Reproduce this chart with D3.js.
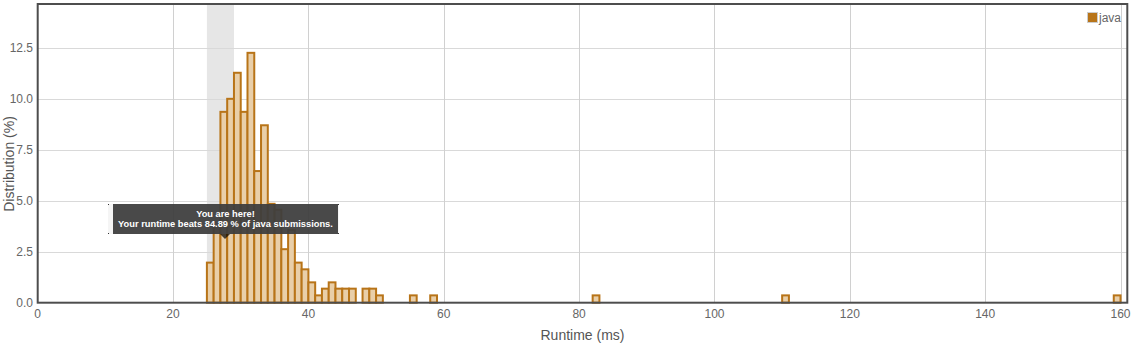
<!DOCTYPE html>
<html>
<head>
<meta charset="utf-8">
<script src="https://cdn.jsdelivr.net/npm/d3@7"></script>
<style>
  body { margin: 0; background: #fff; }
  text { font-family: "Liberation Sans", Arial, Helvetica, sans-serif; }
</style>
</head>
<body>
<div id="chart"></div>
<script>
// runtime bins (ms) and share of submissions (%)
var runtimes = [25, 26, 27, 28, 29, 30, 31, 32, 33, 34, 35, 36, 37, 38, 39, 40,
                41, 42, 43, 44, 45, 46, 48, 49, 50, 55, 58, 82, 110, 159];
var distribution = [1.97, 3.76, 9.38, 10.02, 11.3, 9.38, 12.28, 6.47, 8.72, 4.86, 4.57, 2.63, 3.58, 1.97, 1.64, 1.0,
                    0.36, 0.69, 1.0, 0.69, 0.69, 0.69, 0.69, 0.69, 0.36, 0.36, 0.36, 0.36, 0.36, 0.36];
var xTicks = [0, 20, 40, 60, 80, 100, 120, 140, 160];
var yTicks = [0, 2.5, 5, 7.5, 10, 12.5];
var highlight = [25, 29];
var tipLines = ['You are here!', 'Your runtime beats 84.89 % of java submissions.'];
var seriesName = 'java';

var width = 1131,
    height = 343,
    plotLeft = 37.7, plotRight = 1127.3, plotTop = 4, plotBottom = 302.7;

var svg = d3.select('#chart').append('svg')
  .attr('width', width)
  .attr('height', height);

var x = d3.scaleLinear().domain([0, 161]).range([plotLeft, plotRight]);
var y = d3.scaleLinear().domain([0, 14.68]).range([plotBottom, plotTop]);

// highlighted band
svg.append('rect')
  .attr('x', x(highlight[0]))
  .attr('y', plotTop)
  .attr('width', x(highlight[1]) - x(highlight[0]))
  .attr('height', plotBottom - plotTop)
  .attr('fill', '#e6e6e6');

// grid
svg.append('g').selectAll('line')
  .data(yTicks.slice(1))
  .enter().append('line')
  .attr('x1', plotLeft).attr('x2', plotRight)
  .attr('y1', function(d) { return Math.round(y(d)) + 0.5; })
  .attr('y2', function(d) { return Math.round(y(d)) + 0.5; })
  .attr('stroke', '#d9d9d9')
  .attr('stroke-width', 1);

svg.append('g').selectAll('line')
  .data(xTicks.slice(1))
  .enter().append('line')
  .attr('x1', function(d) { return Math.round(x(d)) + 0.5; })
  .attr('x2', function(d) { return Math.round(x(d)) + 0.5; })
  .attr('y1', plotTop).attr('y2', plotBottom)
  .attr('stroke', '#d0d0d0')
  .attr('stroke-width', 1);

// bars
svg.append('g').selectAll('rect')
  .data(runtimes)
  .enter().append('rect')
  .attr('x', function(d) { return x(d); })
  .attr('width', function(d) { return x(d + 1) - x(d); })
  .attr('y', function(d, i) { return y(distribution[i]); })
  .attr('height', function(d, i) { return plotBottom - y(distribution[i]); })
  .attr('fill', '#e9cfa9')
  .attr('stroke', '#b87418')
  .attr('stroke-width', 2);

// frame
svg.append('rect')
  .attr('x', plotLeft).attr('y', plotTop)
  .attr('width', plotRight - plotLeft).attr('height', plotBottom - plotTop)
  .attr('fill', 'none')
  .attr('stroke', '#4d4d4d')
  .attr('stroke-width', 2);

// tick labels
svg.append('g').selectAll('text')
  .data(yTicks)
  .enter().append('text')
  .attr('x', 33)
  .attr('y', function(d) { return y(d) + 4; })
  .attr('text-anchor', 'end')
  .attr('font-size', '12px')
  .attr('fill', '#666')
  .text(function(d) { return d.toFixed(1); });

svg.append('g').selectAll('text')
  .data(xTicks)
  .enter().append('text')
  .attr('x', function(d) { return x(d); })
  .attr('y', 318)
  .attr('text-anchor', 'middle')
  .attr('font-size', '12px')
  .attr('fill', '#666')
  .text(function(d) { return d; });

// axis titles
svg.append('text')
  .attr('x', (plotLeft + plotRight) / 2)
  .attr('y', 340)
  .attr('text-anchor', 'middle')
  .attr('font-size', '14px')
  .attr('fill', '#555')
  .text('Runtime (ms)');

svg.append('text')
  .attr('transform', 'translate(14,' + 164 + ') rotate(-90)')
  .attr('text-anchor', 'middle')
  .attr('font-size', '14px')
  .attr('fill', '#555')
  .text('Distribution (%)');

// legend
svg.append('rect')
  .attr('x', 1087.5).attr('y', 12.5)
  .attr('width', 10).attr('height', 10)
  .attr('fill', '#b87418')
  .attr('stroke', '#ccc');
svg.append('text')
  .attr('x', 1099)
  .attr('y', 22)
  .attr('font-size', '12px')
  .attr('fill', '#666')
  .text(seriesName);

// tooltip
var tip = svg.append('g');
tip.append('rect')
  .attr('x', 108).attr('y', 204)
  .attr('width', 231).attr('height', 30)
  .attr('fill', '#f2f2f2')
  .attr('fill-opacity', 0.8);
tip.selectAll('.corner')
  .data([[108.5, 204.5], [108.5, 233.5], [338.5, 204.5], [338.5, 233.5]])
  .enter().append('rect')
  .attr('class', 'corner')
  .attr('x', function(d) { return d[0] - 0.5; })
  .attr('y', function(d) { return d[1] - 0.5; })
  .attr('width', 1).attr('height', 1)
  .attr('fill', '#333');
tip.append('rect')
  .attr('x', 113).attr('y', 204)
  .attr('width', 225).attr('height', 30)
  .attr('fill', 'rgba(0,0,0,0.7)');
tip.append('path')
  .attr('d', 'M220,234 L230,234 L225,239 Z')
  .attr('fill', 'rgba(0,0,0,0.7)');
tip.selectAll('text')
  .data(tipLines)
  .enter().append('text')
  .attr('x', 225.5)
  .attr('y', function(d, i) { return 216.5 + i * 10; })
  .attr('text-anchor', 'middle')
  .attr('font-size', '9.3px')
  .attr('font-weight', 'bold')
  .attr('fill', '#fff')
  .text(function(d) { return d; });
</script>
</body>
</html>
